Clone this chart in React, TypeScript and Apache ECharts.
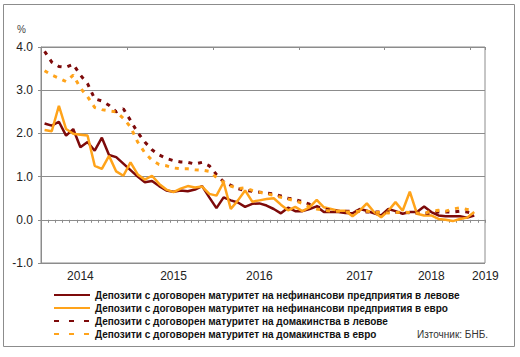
import React, { useEffect, useRef } from 'react';
import * as echarts from 'echarts';

// Monthly categories Jan 2014 – Feb 2019
const months: string[] = [];
for (let y = 2014; y <= 2019; y++) {
  for (let m = 1; m <= 12; m++) {
    if (y === 2019 && m > 2) break;
    months.push(`${y}-${String(m).padStart(2, '0')}`);
  }
}

// Year tick labels and the month each is attached to
const yearLabelMonths = ['2014-06', '2015-07', '2016-07', '2017-09', '2018-07', '2019-02'];
const yearLabels = ['2014', '2015', '2016', '2017', '2018', '2019'];

const yTicks = [-1, 0, 1, 2, 3, 4];

const seriesNames = [
  'Депозити с договорен матуритет на нефинансови предприятия в левове',
  'Депозити с договорен матуритет на нефинансови предприятия в евро',
  'Депозити с договорен матуритет на домакинства в левове',
  'Депозити с договорен матуритет на домакинства в евро',
];

const corpBGN = [
  2.23, 2.18, 2.27, 1.95, 2.1, 1.68, 1.8, 1.6, 1.9, 1.5, 1.45, 1.3,
  1.15, 1.0, 0.87, 0.9, 0.78, 0.68, 0.65, 0.68, 0.66, 0.7, 0.78, 0.52,
  0.27, 0.52, 0.45, 0.4, 0.3, 0.37, 0.38, 0.33, 0.25, 0.15, 0.28, 0.2,
  0.2, 0.25, 0.31, 0.18, 0.18, 0.18, 0.16, 0.15, 0.25, 0.21, 0.15, 0.1,
  0.25, 0.2, 0.14, 0.18, 0.18, 0.31, 0.18, 0.1, 0.08, 0.08, 0.08, 0.05,
  0.1,
];

const corpEUR = [
  2.08, 2.05, 2.64, 2.1, 1.99, 1.97, 1.95, 1.25, 1.18, 1.48, 1.12, 1.02,
  1.33, 1.05, 0.93, 1.02, 0.83, 0.7, 0.64, 0.72, 0.78, 0.75, 0.77, 0.6,
  0.56, 0.87, 0.25, 0.45, 0.68, 0.42, 0.45, 0.48, 0.5, 0.35, 0.22, 0.3,
  0.2, 0.29, 0.46, 0.29, 0.25, 0.21, 0.21, 0.08, 0.21, 0.38, 0.18, 0.06,
  0.21, 0.41, 0.21, 0.65, 0.14, 0.1, 0.1, 0.02, 0.0, -0.03, 0.02, 0.05,
  0.18,
];

const hhBGN = [
  3.9, 3.65, 3.55, 3.53, 3.6, 3.35, 3.15, 2.8, 2.75, 2.65, 2.5, 2.57,
  2.3, 2.02, 1.8, 1.62, 1.5, 1.42, 1.37, 1.34, 1.33, 1.29, 1.33, 1.25,
  1.05, 0.88, 0.8, 0.72, 0.68, 0.66, 0.64, 0.62, 0.6, 0.55, 0.5, 0.47,
  0.42, 0.36, 0.31, 0.25, 0.22, 0.2, 0.2, 0.2, 0.2, 0.18, 0.18, 0.18,
  0.18, 0.17, 0.17, 0.16, 0.16, 0.15, 0.15, 0.18, 0.18, 0.18, 0.2, 0.18,
  0.14,
];

const hhEUR = [
  3.45, 3.35, 3.28, 3.2, 3.35, 3.05, 2.85, 2.6, 2.55, 2.52, 2.5, 2.35,
  2.15, 1.8, 1.55, 1.38, 1.28, 1.25, 1.2, 1.18, 1.18, 1.16, 1.15, 1.12,
  0.98, 0.87, 0.78, 0.72, 0.74, 0.68, 0.64, 0.6, 0.57, 0.52, 0.48, 0.44,
  0.38, 0.3, 0.25, 0.22, 0.2, 0.2, 0.18, 0.18, 0.2, 0.2, 0.18, 0.17,
  0.16, 0.17, 0.18, 0.17, 0.15, 0.15, 0.2, 0.22, 0.2, 0.25, 0.28, 0.24,
  0.2,
];

const DARK = '#7d0a0a';
const ORANGE = '#ffa31a';
const GRID = '#8c8c8c';
const FONT = '"Liberation Sans", Arial, sans-serif';

export default function App() {
  const ref = useRef<HTMLDivElement>(null);

  useEffect(() => {
    if (!ref.current) return;
    const chart = echarts.init(ref.current, undefined, { renderer: 'svg' });

    const lineSeries = (name: string, data: number[], color: string, dashed: boolean) => ({
      name,
      type: 'line',
      data,
      xAxisIndex: 0,
      yAxisIndex: 0,
      symbol: 'none',
      smooth: false,
      lineStyle: {
        color,
        width: dashed ? 3 : 2.5,
        type: dashed ? [4, 6] : 'solid',
        cap: 'butt',
      },
      itemStyle: { color },
      emphasis: { disabled: true },
    });

    chart.setOption({
      animation: false,
      backgroundColor: '#ffffff',
      textStyle: { fontFamily: FONT },
      grid: {
        left: 41,
        right: 35,
        top: 47,
        bottom: 94,
        show: true,
        borderColor: GRID,
        borderWidth: 1,
      },
      legend: {
        orient: 'vertical',
        left: 48,
        top: 285,
        itemWidth: 36,
        itemHeight: 10,
        itemGap: 3,
        selectedMode: false,
        itemStyle: { opacity: 0, color: 'rgba(0,0,0,0)', borderWidth: 0 },
        textStyle: { fontSize: 10, fontWeight: 'bold', color: '#111', fontFamily: FONT },
        data: [
          { name: seriesNames[0] },
          { name: seriesNames[1] },
          { name: seriesNames[2], lineStyle: { type: [5, 10] } },
          { name: seriesNames[3], lineStyle: { type: [5, 10] } },
        ],
      },
      xAxis: [
        {
          type: 'category',
          data: months,
          boundaryGap: true,
          axisLine: { show: true, onZero: true, lineStyle: { color: GRID, width: 1 } },
          axisTick: { show: true, interval: 0, length: 3, lineStyle: { color: GRID } },
          axisLabel: { show: false },
          splitLine: { show: false },
        },
        {
          type: 'category',
          data: months,
          position: 'bottom',
          boundaryGap: true,
          axisLine: { show: false, onZero: false },
          axisTick: { show: false },
          splitLine: { show: false },
          axisLabel: {
            show: true,
            interval: (_i: number, v: string) => yearLabelMonths.includes(v),
            formatter: (v: string) => {
              const k = yearLabelMonths.indexOf(v);
              if (k < 0) return '';
              return k === yearLabels.length - 1 ? `{r|${yearLabels[k]}}` : yearLabels[k];
            },
            margin: 7,
            fontSize: 12,
            color: '#222',
            fontFamily: FONT,
            rich: { r: { fontSize: 12, color: '#222', fontFamily: FONT, padding: [0, 0, 0, 8] } },
          },
        },
        {
          type: 'category',
          data: months,
          boundaryGap: true,
          axisLine: { show: false, onZero: true },
          axisTick: {
            show: true,
            inside: true,
            length: 3,
            interval: (i: number) => i % 12 === 0,
            lineStyle: { color: GRID },
          },
          axisLabel: { show: false },
          splitLine: { show: false },
        },
      ],
      yAxis: {
        type: 'value',
        min: yTicks[0],
        max: yTicks[yTicks.length - 1],
        interval: 1,
        axisLine: { show: true, lineStyle: { color: GRID } },
        axisTick: { show: true, length: 3, lineStyle: { color: GRID } },
        splitLine: { show: true, lineStyle: { color: GRID, width: 1 } },
        axisLabel: {
          formatter: (v: number) => v.toFixed(1),
          fontSize: 12,
          color: '#222',
          margin: 8,
          fontFamily: FONT,
        },
      },
      series: [
        lineSeries(seriesNames[0], corpBGN, DARK, false),
        lineSeries(seriesNames[1], corpEUR, ORANGE, false),
        lineSeries(seriesNames[2], hhBGN, DARK, true),
        lineSeries(seriesNames[3], hhEUR, ORANGE, true),
      ],
      graphic: [
        {
          type: 'rect',
          shape: { x: 3.5, y: 4.5, width: 511, height: 342 },
          style: { fill: 'none', stroke: '#8c8c8c', lineWidth: 1 },
          silent: true,
          z: 0,
        },
        {
          type: 'text',
          x: 17,
          y: 24,
          style: { text: '%', fontSize: 10, fill: '#444', fontFamily: FONT },
          silent: true,
        },
        {
          type: 'text',
          x: 488,
          y: 329,
          style: {
            text: 'Източник: БНБ.',
            fontSize: 10,
            fill: '#333',
            fontFamily: FONT,
            align: 'right',
          },
          silent: true,
        },
      ],
    });

    return () => chart.dispose();
  }, []);

  return (
    <div
      ref={ref}
      style={{ position: 'fixed', left: 0, top: 0, width: 520, height: 357, background: '#fff' }}
    />
  );
}
